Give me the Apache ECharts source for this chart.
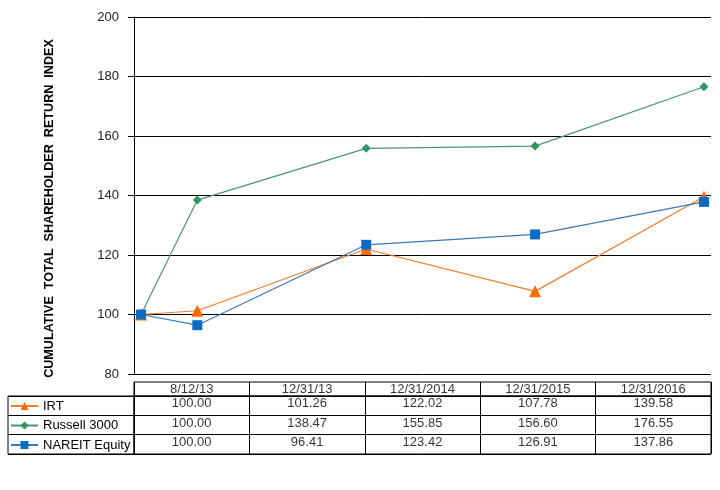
<!DOCTYPE html>
<html>
<head>
    <meta charset="utf-8">
    <title>Cumulative Total Shareholder Return</title>
    <script src="https://cdn.jsdelivr.net/npm/echarts@6/dist/echarts.min.js"></script>
</head>
<body style="margin: 0">
<div id="container" style="width: 720px; height: 490px"></div>
<script type="text/javascript">
// measurement dates (x axis is a date axis in month units)
var dates = ['8/12/13', '12/31/13', '12/31/2014', '12/31/2015', '12/31/2016'];
var monthIndex = [0, 4, 16, 28, 40]; // months after Aug 2013
var seriesNames = ['IRT', 'Russell 3000', 'NAREIT Equity'];
var irt = [100.00, 101.26, 122.02, 107.78, 139.58];
var russell = [100.00, 138.47, 155.85, 156.60, 176.55];
var nareit = [100.00, 96.41, 123.42, 126.91, 137.86];
var yTicks = [80, 100, 120, 140, 160, 180, 200];

var font = 'Liberation Sans, Arial, sans-serif';
var allValues = [irt, russell, nareit];

function pairs(vals) {
    return vals.map(function (v, i) { return [monthIndex[i], v]; });
}

// table cells
var cellData = [];
allValues.forEach(function (vals, r) {
    vals.forEach(function (v, c) {
        cellData.push([dates[c], seriesNames[r], v]);
    });
});
var headerData = dates.map(function (d) { return [d, 'h']; });

var myChart = echarts.init(document.getElementById('container'));
var option = {
    animation: false,
    backgroundColor: '#fff',
    textStyle: { fontFamily: font },
    legend: {
        orient: 'vertical',
        left: 10,
        top: 399,
        padding: 0,
        itemWidth: 27,
        itemHeight: 10,
        itemGap: 5.5,
        data: seriesNames,
        textStyle: { fontFamily: font, fontSize: 13, color: '#000', lineHeight: 14 }
    },
    grid: [
        { left: 134, right: 9, top: 17, bottom: 116, outerBoundsMode: 'none' },
        { left: 134, right: 9, top: 382, height: 14, show: true, borderColor: '#000', borderWidth: 1, outerBoundsMode: 'none' },
        { left: 134, right: 9, top: 396, height: 58, show: true, borderColor: '#000', borderWidth: 1, outerBoundsMode: 'none' },
        { left: 8, width: 126, top: 396, height: 58, show: true, borderColor: '#000', borderWidth: 1, outerBoundsMode: 'none' }
    ],
    xAxis: [
        {
            gridIndex: 0, type: 'value', min: -0.5, max: 40.5,
            axisLine: { show: false }, axisTick: { show: false },
            axisLabel: { show: false }, splitLine: { show: false }
        },
        {
            gridIndex: 1, type: 'category', data: dates,
            axisLine: { show: false }, axisTick: { show: false }, axisLabel: { show: false },
            splitLine: { show: true, lineStyle: { color: '#000', width: 1 } }
        },
        {
            gridIndex: 2, type: 'category', data: dates,
            axisLine: { show: false }, axisTick: { show: false }, axisLabel: { show: false },
            splitLine: { show: true, lineStyle: { color: '#000', width: 1 } }
        },
        {
            gridIndex: 3, type: 'value', show: false
        }
    ],
    yAxis: [
        {
            gridIndex: 0, type: 'value', min: yTicks[0], max: yTicks[yTicks.length - 1], interval: 20,
            name: 'CUMULATIVE  TOTAL  SHAREHOLDER  RETURN  INDEX',
            nameLocation: 'middle', nameRotate: 90, nameGap: 78,
            nameTextStyle: { fontFamily: font, fontSize: 12.6, fontWeight: 'bold', color: '#000', padding: [0, 26, 0, 0] },
            axisLine: { show: true, onZero: false, lineStyle: { color: '#000', width: 1 } },
            axisTick: { show: true, length: 6, lineStyle: { color: '#000' } },
            axisLabel: { fontFamily: font, fontSize: 13, color: '#222', margin: 15 },
            splitLine: { show: true, lineStyle: { color: '#000', width: 1 } }
        },
        {
            gridIndex: 1, type: 'category', data: ['h'], show: false
        },
        {
            gridIndex: 2, type: 'category', data: seriesNames, inverse: true,
            axisLine: { show: false }, axisTick: { show: false }, axisLabel: { show: false },
            splitLine: { show: true, lineStyle: { color: '#000', width: 1 } }
        },
        {
            gridIndex: 3, type: 'category', data: seriesNames, inverse: true,
            axisLine: { show: false }, axisTick: { show: false }, axisLabel: { show: false },
            splitLine: { show: true, lineStyle: { color: '#000', width: 1 } }
        }
    ],
    series: [
        {
            name: 'IRT', type: 'line', xAxisIndex: 0, yAxisIndex: 0,
            data: pairs(irt), symbol: 'triangle', symbolSize: 12,
            lineStyle: { color: '#F47C2C', width: 1.2 },
            itemStyle: { color: '#FF6A00' }, z: 3
        },
        {
            name: 'Russell 3000', type: 'line', xAxisIndex: 0, yAxisIndex: 0,
            data: pairs(russell), symbol: 'diamond', symbolSize: 9,
            lineStyle: { color: '#4A9477', width: 1.2 },
            itemStyle: { color: '#2E9460' }, z: 3
        },
        {
            name: 'NAREIT Equity', type: 'line', xAxisIndex: 0, yAxisIndex: 0,
            data: pairs(nareit), symbol: 'rect', symbolSize: 10,
            lineStyle: { color: '#3A78B8', width: 1.2 },
            itemStyle: { color: '#0A6CC4' }, z: 4
        },
        {
            type: 'scatter', xAxisIndex: 1, yAxisIndex: 1, silent: true,
            data: headerData, symbolSize: 0,
            label: {
                show: true, position: 'inside', fontFamily: font, fontSize: 13, color: '#000',
                formatter: function (p) { return p.value[0]; }
            }
        },
        {
            type: 'scatter', xAxisIndex: 2, yAxisIndex: 2, silent: true,
            data: cellData, symbolSize: 0,
            label: {
                show: true, position: 'inside', offset: [0, -2], fontFamily: font, fontSize: 13, color: '#000',
                formatter: function (p) { return p.value[2].toFixed(2); }
            }
        }
    ]
};
myChart.setOption(option);
</script>
</body>
</html>
